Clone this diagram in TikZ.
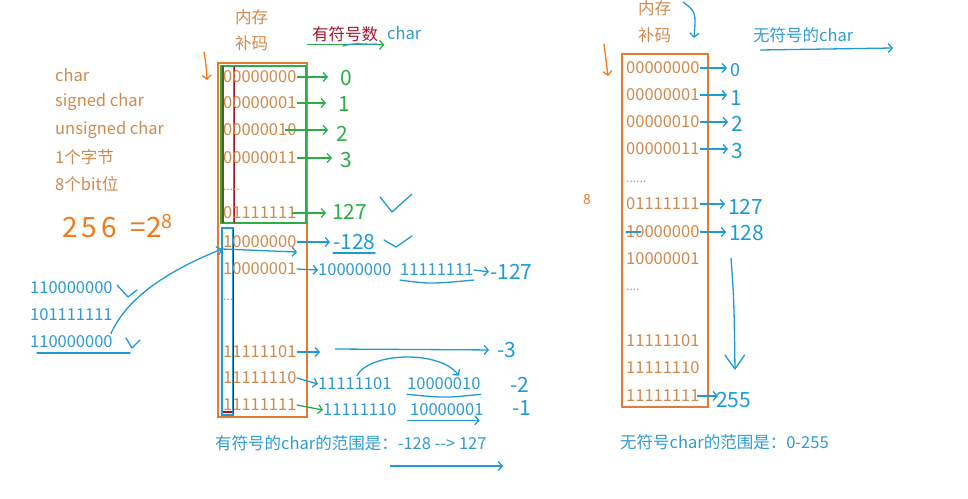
\documentclass[tikz,border=0pt]{standalone}
\usepackage{fontspec}
\setmainfont{Noto Sans CJK SC}
\usepackage{tikz}
\usetikzlibrary{
    arrows.meta,
    positioning
}
\definecolor{memtxt}{HTML}{D08A4E}
\definecolor{boxline}{HTML}{E57A30}
\definecolor{penorange}{HTML}{F07A1C}
\definecolor{penblue}{HTML}{1E9AD6}
\definecolor{notetxt}{HTML}{2E9BD3}
\definecolor{pengreen}{HTML}{2CAE45}
\definecolor{darkred}{HTML}{A3162C}
\definecolor{signbar}{HTML}{5A5A1E}
\tikzstyle{memrow} = [anchor=west, inner sep=0pt, text=memtxt, font=\fontsize{16.5}{18}\selectfont]
\tikzstyle{memdots} = [anchor=west, inner sep=0pt, text=memtxt, font=\fontsize{12}{12}\selectfont]
\tikzstyle{note} = [anchor=west, inner sep=0pt, text=notetxt, font=\fontsize{16.5}{18}\selectfont]
\tikzstyle{handnum} = [anchor=west, inner sep=0pt, font=\fontsize{21}{22}\selectfont]
\tikzstyle{garrow} = [pengreen, line width=1.3pt, -{Straight Barb[length=4pt,width=9pt]}]
\tikzstyle{barrow} = [penblue, line width=1.3pt, -{Straight Barb[length=4pt,width=9pt]}]
\tikzstyle{pen} = [line width=1.3pt, line cap=round, line join=round]

\begin{document}
\begin{tikzpicture}[x=1pt,y=-1pt]
\useasboundingbox (0,0) rectangle (968,498);
% ---- signed char side
\node[memrow] (nc1) at (235,17) {内存};
\node[memrow] (bm1) at (235,43) {补码};
\node[memrow, text=darkred] (sym) at (312,34) {有符号数};
\node[note] (sc) at (387,33) {char};
\draw[garrow] ([xshift=-5pt,yshift=-3pt]sym.south west) -- ([xshift=6pt,yshift=-3pt]sym.south east);
\draw[pen, penblue] (343,46) .. controls (355,42) and (365,45) .. (377,44);
\draw[pen, penorange, -{Straight Barb[length=4pt,width=9pt]}] (204,52) .. controls (206,64) .. (207,80);
\node[memrow] (t1) at (55,75) {char};
\node[memrow] (t2) at (55,102) {signed char};
\node[memrow] (t3) at (55,130) {unsigned char};
\node[memrow] (t4) at (55,157) {1个字节};
\node[memrow] (t5) at (55,184) {8个bit位};
\node[handnum, text=penorange, font=\fontsize{28}{28}\selectfont] (pw) at (62,226) {2\hspace{4pt}5\hspace{4pt}6\hspace{14pt}=2\textsuperscript{8}};
% memory box
\draw[boxline, line width=1.5pt] (218,63) rectangle (307,417);
\draw[pengreen, line width=1.3pt] (221,66) rectangle (306,223);
\draw[pengreen, line width=1pt] (222,66) rectangle (233,223);
\draw[signbar, line width=2pt] (222.5,66) -- (222.5,223);
\draw[darkred, line width=1pt] (234,66) -- (234,223);
\draw[penblue, line width=1.3pt] (222,228) rectangle (233,415);
\draw[darkred!70!blue, line width=1pt] (233,230) -- (233,413);
\draw[red!80!black, line width=1.5pt] (223,412) -- (232,412);
\node[memrow] (l0) at (223,77) {00000000};
\node[memrow] (l1) at (223,103) {00000001};
\node[memrow] (l2) at (223,130) {00000010};
\node[memrow] (l3) at (223,158) {00000011};
\node[memdots] (ld1) at (223,190) {.....};
\node[memrow] (l127) at (223,213) {01111111};
\node[memrow] (l128) at (223,242) {10000000};
\node[memrow] (l129) at (223,269) {10000001};
\node[memdots] (ld2) at (223,300) {...};
\node[memrow] (l253) at (223,352) {11111101};
\node[memrow] (l254) at (223,378) {11111110};
\node[memrow] (l255) at (223,405) {11111111};
% values
\node[handnum, text=pengreen] (v0) at (340,78) {0};
\node[handnum, text=pengreen] (v1) at (338,104) {1};
\node[handnum, text=pengreen] (v2) at (336,134) {2};
\node[handnum, text=pengreen] (v3) at (340,160) {3};
\node[handnum, text=pengreen] (v127) at (332,212) {127};
\draw[garrow, shorten >=12pt] (l0.east) -- (l0.east -| v0.west);
\draw[garrow, shorten >=12pt] (l1.east) -- (l1.east -| v1.west);
\draw[garrow, shorten >=8pt] ([xshift=-12pt]l2.east) -- (l2.east -| v2.west);
\draw[garrow, shorten >=8pt] (l3.east) -- (l3.east -| v3.west);
\draw[garrow, shorten >=6pt] ([xshift=-5pt]l127.east) -- (l127.east -| v127.west);
\draw[pen, penblue] (380,197) -- (392,212) -- (412,194);
\node[handnum, text=penblue] (vm128) at (333,242) {-128};
\draw[barrow, shorten >=3pt] (l128.east) -- (l128.east -| vm128.west);
\draw[pen, penblue] (333,253) -- (375,253);
\draw[pen, penblue] (384,240) -- (396,247) -- (412,236);
\node[note] (n1a) at (318,270) {10000000};
\node[note] (n1b) at (400,270) {11111111};
\node[handnum, text=penblue] (vm127) at (490,272) {-127};
\draw[barrow] (l129.east) -- (n1a.west);
\draw[pen, penblue] ([yshift=-4pt]n1b.south west) .. controls (430,284) .. ([yshift=-4pt]n1b.south east);
\draw[barrow, shorten >=1pt] (n1b.east) -- (vm127.west);
\coordinate (c253) at (320,352);
\coordinate (c253a) at (335,349);
\node[handnum, text=penblue] (vm3) at (497,350) {-3};
\draw[barrow] (l253.east) -- (c253);
\draw[barrow, shorten >=8pt] (c253a) -- (vm3.west);
\node[note] (n2a) at (318,384) {11111101};
\node[note] (n2b) at (407,384) {10000010};
\node[handnum, text=penblue] (vm2) at (510,385) {-2};
\draw[barrow] (l254.east) -- (n2a.west);
\draw[barrow] ([xshift=2pt,yshift=2pt]n2a.north) .. controls (370,352) and (440,350) .. ([xshift=15pt,yshift=2pt]n2b.north);
\draw[pen, penblue] ([yshift=-4pt]n2b.south west) .. controls (445,398) .. ([yshift=-4pt]n2b.south east);
\node[note] (n3a) at (323,410) {11111110};
\node[note] (n3b) at (410,410) {10000001};
\node[handnum, text=penblue] (vm1) at (512,408) {-1};
\draw[garrow] (l255.east) -- (n3a.west);
\draw[barrow] ([xshift=-3pt,yshift=-4pt]n3b.south west) -- ([xshift=-4pt,yshift=-4pt]n3b.south east);
\node[note] (rg1) at (215,443) {有符号的char的范围是：-128 -{}-{}> 127};
\coordinate (ra1) at (390,466);
\coordinate (ra2) at (503,466);
\draw[barrow] (ra1) -- (ra2);
% overflow example
\node[note] (k1) at (30,288) {110000000};
\node[note] (k2) at (30,315) {101111111};
\node[note] (k3) at (30,342) {110000000};
\draw[pen, penblue] (117,285) -- (128,297) -- (137,290);
\draw[pen, penblue] (126,338) -- (132,348) -- (140,340);
\draw[pen, penblue] (37,353) -- (130,353);
\coordinate (entry) at (222,249);
\draw[barrow] ([xshift=-2pt,yshift=2pt]k3.north east) .. controls (128,296) and (170,270) .. (entry);
\draw[barrow] (entry) -- (297,252);
% ---- unsigned char side
\node[memrow] (nc2) at (638,8) {内存};
\node[memrow] (bm2) at (638,35) {补码};
\draw[pen, penblue, -{Straight Barb[length=4pt,width=9pt]}] (683,2) .. controls (696,12) .. (694,38);
\node[note] (uc) at (753,35) {无符号的char};
\coordinate (ua1) at (760,50);
\coordinate (ua2) at (893,48);
\draw[barrow] (ua1) -- (ua2);
\draw[pen, penorange, -{Straight Barb[length=4pt,width=9pt]}] (604,44) .. controls (606,60) .. (608,76);
\node[handnum, text=penorange, font=\fontsize{14}{14}\selectfont] (e8) at (583,200) {8};
\draw[boxline, line width=1.5pt] (622,54) rectangle (708,407);
\node[memrow] (r0) at (626,68) {00000000};
\node[memrow] (r1) at (626,95) {00000001};
\node[memrow] (r2) at (626,122) {00000010};
\node[memrow] (r3) at (626,149) {00000011};
\node[memdots] (rd1) at (626,182) {......};
\node[memrow] (r127) at (626,204) {01111111};
\node[memrow] (r128) at (626,232) {10000000};
\node[memrow] (r129) at (626,259) {10000001};
\node[memdots] (rd2) at (626,290) {....};
\node[memrow] (r253) at (626,341) {11111101};
\node[memrow] (r254) at (626,368) {11111110};
\node[memrow] (r255) at (626,396) {11111111};
\node[handnum, text=penblue, font=\fontsize{18}{18}\selectfont] (u0) at (730,70) {0};
\node[handnum, text=penblue] (u1) at (730,98) {1};
\node[handnum, text=penblue] (u2) at (731,124) {2};
\node[handnum, text=penblue] (u3) at (731,151) {3};
\node[handnum, text=penblue] (u127) at (728,207) {127};
\node[handnum, text=penblue] (u128) at (729,233) {128};
\node[handnum, text=penblue] (u255) at (716,400) {255};
\draw[barrow, shorten >=3pt] (r0.east) -- (r0.east -| u0.west);
\draw[barrow, shorten >=3pt] (r1.east) -- (r1.east -| u1.west);
\draw[barrow, shorten >=3pt] (r2.east) -- (r2.east -| u2.west);
\draw[barrow, shorten >=3pt] (r3.east) -- (r3.east -| u3.west);
\draw[barrow, shorten >=3pt] (r127.east) -- (r127.east -| u127.west);
\draw[barrow, shorten >=3pt] (r128.east) -- (r128.east -| u128.west);
\draw[barrow, shorten >=-2pt] ([xshift=-3pt]r255.east) -- (r255.east -| u255.west);
\draw[pen, penblue] (r128.west) -- ++(15,0);
\coordinate (dn1) at (731,258);
\coordinate (dn2) at (735,370);
\draw[barrow, -{Straight Barb[length=14pt,width=20pt]}] (dn1) .. controls (734,300) .. (dn2);
\node[note] (rg2) at (620,442) {无符号char的范围是：0-255};
\end{tikzpicture}
\end{document}
